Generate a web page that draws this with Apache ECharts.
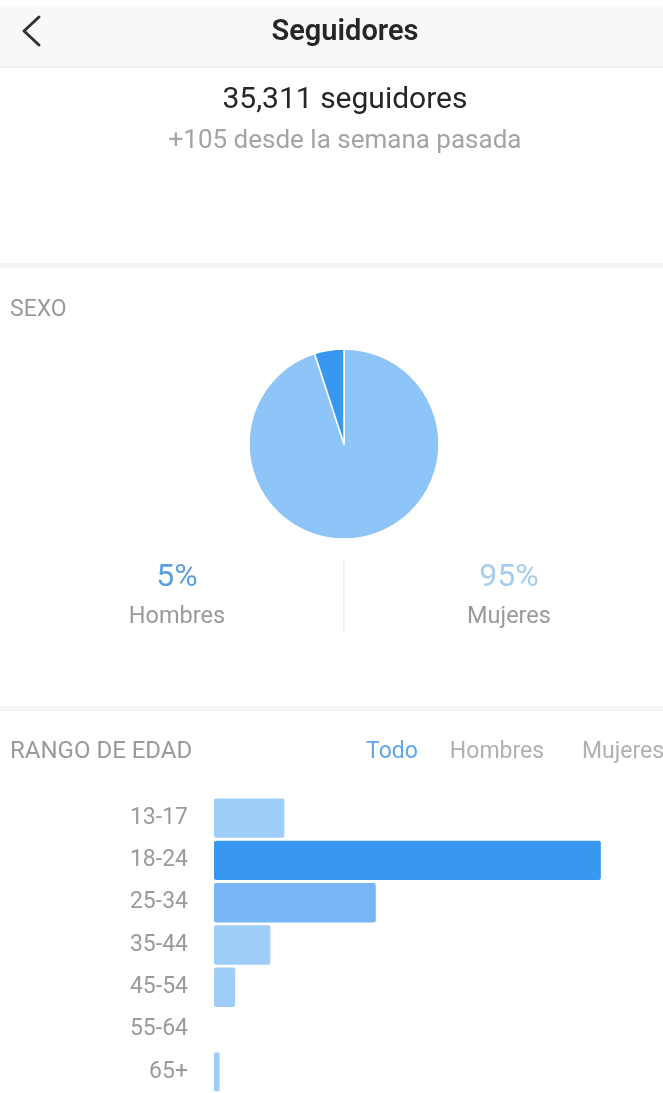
<!DOCTYPE html>
<html>
<head>
<meta charset="utf-8">
<script src="https://cdn.jsdelivr.net/npm/echarts@6/dist/echarts.min.js"></script>
<style>
  html, body { margin: 0; padding: 0; background: #ffffff; }
  #chart { width: 663px; height: 1093px; }
</style>
</head>
<body>
<div id="chart"></div>
<script>
// Follower summary
const followerTotal = '35,311';
const followerDelta = '+105';

// Gender split (percent)
const genderNames = ['Mujeres', 'Hombres'];
const genderValues = [95, 5];

// Age ranges (percent of followers)
const ageRanges = ['13-17', '18-24', '25-34', '35-44', '45-54', '55-64', '65+'];
const ageValues = [10, 55, 23, 8, 3, 0, 0.8];

// Tabs above the age chart
const ageTabs = ['Todo', 'Hombres', 'Mujeres'];

const FONT = 'Roboto, "Noto Sans", sans-serif';
const BLUE = '#3897f0';
const BLUE_MID = '#79b6f5';
const BLUE_LIGHT = '#9ecdfa';
const PIE_LIGHT = '#8ec5f9';
const GREY_TEXT = '#9a9a9a';

// Bars coloured by rank: largest dark, second medium, the rest light
const ranked = ageValues.slice().sort((a, b) => b - a);
function barColor(v) {
  if (v === ranked[0]) return BLUE;
  if (v === ranked[1]) return BLUE_MID;
  return BLUE_LIGHT;
}

const chart = echarts.init(document.getElementById('chart'), null, { renderer: 'canvas' });

const hombresPct = genderValues[genderNames.indexOf('Hombres')];
const mujeresPct = genderValues[genderNames.indexOf('Mujeres')];

function txt(x, y, text, size, color, extra) {
  return {
    type: 'text', x: x, y: y,
    style: Object.assign({
      text: text, fontSize: size, fill: color, fontFamily: FONT,
      align: 'center', verticalAlign: 'middle'
    }, extra || {})
  };
}

const graphics = [
  // navigation bar
  { type: 'rect', shape: { x: 0, y: 6, width: 663, height: 61 }, style: { fill: '#f8f8f8' } },
  { type: 'rect', shape: { x: 0, y: 66, width: 663, height: 2 }, style: { fill: '#ececec' } },
  { type: 'polyline', shape: { points: [[39, 17], [24, 31], [39, 45]] },
    style: { stroke: '#333333', lineWidth: 3, fill: null, lineCap: 'round', lineJoin: 'round' } },
  txt(345, 33, 'Seguidores', 29, '#262626', { fontWeight: 600 }),

  // totals
  txt(345, 100, followerTotal + ' seguidores', 30, '#262626'),
  txt(345, 141, followerDelta + ' desde la semana pasada', 26, '#a4a4a4'),

  // section separators
  { type: 'rect', shape: { x: 0, y: 263, width: 663, height: 5 }, style: { fill: '#f5f5f5' } },
  { type: 'rect', shape: { x: 0, y: 706, width: 663, height: 5 }, style: { fill: '#f5f5f5' } },

  // gender section
  txt(10, 310, 'SEXO', 23, GREY_TEXT, { align: 'left' }),
  txt(177, 578, hombresPct + '%', 32, '#5b9fdf'),
  txt(177, 617, 'Hombres', 23.5, GREY_TEXT),
  txt(509, 578, mujeresPct + '%', 32, '#a6cdf0'),
  txt(509, 617, 'Mujeres', 23.5, GREY_TEXT),
  { type: 'rect', shape: { x: 343, y: 560, width: 1.5, height: 72 }, style: { fill: '#f0f0f0' } },

  // age section header
  txt(10, 752, 'RANGO DE EDAD', 24, GREY_TEXT, { align: 'left' }),
  txt(392, 752, ageTabs[0], 23, '#5ea7ea'),
  txt(497, 752, ageTabs[1], 23, '#b0b0b0'),
  txt(623, 752, ageTabs[2], 23, '#b0b0b0')
];

chart.setOption({
  animation: false,
  backgroundColor: '#ffffff',
  graphic: graphics,
  grid: { left: 214, width: 422, top: 797, height: 305 },
  xAxis: {
    type: 'value', min: 0, max: 60,
    show: false, splitLine: { show: false }
  },
  yAxis: {
    type: 'category', data: ageRanges, inverse: true,
    axisLine: { show: false }, axisTick: { show: false },
    axisLabel: { color: GREY_TEXT, fontSize: 23, fontFamily: FONT, margin: 26 }
  },
  series: [
    {
      type: 'pie',
      center: [344, 444],
      radius: [0, 95],
      startAngle: 90,
      clockwise: true,
      label: { show: false },
      labelLine: { show: false },
      silent: true,
      itemStyle: { borderColor: '#ffffff', borderWidth: 1.5 },
      data: genderNames.map((n, i) => ({
        name: n, value: genderValues[i],
        itemStyle: { color: n === 'Hombres' ? BLUE : PIE_LIGHT }
      }))
    },
    {
      type: 'bar',
      barCategoryGap: '7%',
      silent: true,
      data: ageValues.map(v => ({
        value: v,
        itemStyle: { color: barColor(v), borderRadius: 2 }
      }))
    }
  ]
});
</script>
</body>
</html>
